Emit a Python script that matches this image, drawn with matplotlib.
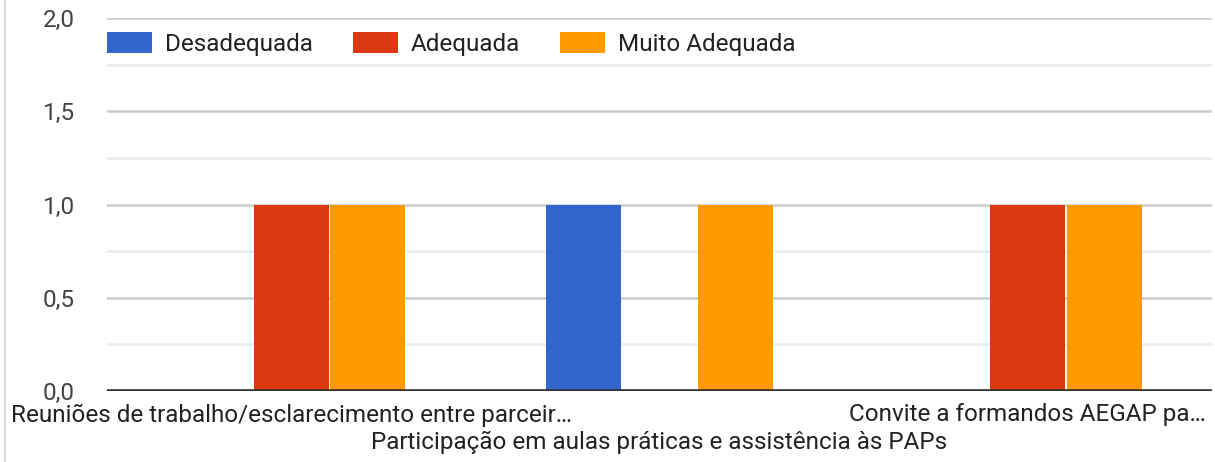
import numpy as np
import matplotlib.pyplot as plt
from matplotlib.patches import Patch
from matplotlib.lines import Line2D

plt.rcParams['font.family'] = ['Roboto', 'DejaVu Sans']

categories = ['Reuniões de trabalho/esclarecimento entre parceir…',
              'Participação em aulas práticas e assistência às PAPs',
              'Convite a formandos AEGAP pa…']
series = ['Desadequada', 'Adequada', 'Muito Adequada']
desadequada = [0, 1, 0]
adequada = [1, 0, 1]
muito_adequada = [1, 1, 1]
y_ticks = [0.0, 0.5, 1.0, 1.5, 2.0]
y_tick_labels = ['0,0', '0,5', '1,0', '1,5', '2,0']

colors = ['#3366cc', '#dc3912', '#ff9900']
fs = 17.5

fig = plt.figure(figsize=(12.15, 4.62), dpi=100)
ax = fig.add_axes([107 / 1215, 71 / 462, 1105 / 1215, 373 / 462])

x = np.arange(len(categories))
w = 0.204
for i, (vals, c, name) in enumerate(zip([desadequada, adequada, muito_adequada], colors, series)):
    ax.bar(x + (i - 1) * (w + 0.003), vals, width=w, color=c, label=name, zorder=3)

ax.set_xlim(-0.5, 2.5)
ax.set_ylim(0, 2.0)

# gridlines
for v in np.arange(0.25, 2.01, 0.25):
    major = abs(v * 2 - round(v * 2)) < 1e-9
    ax.axhline(v, color='#cccccc' if major else '#ebebeb', lw=1.8, zorder=1)
ax.axhline(0, color='#333333', lw=2.6, zorder=4)

for s in ax.spines.values():
    s.set_visible(False)

ax.set_yticks(y_ticks)
ax.set_yticklabels(y_tick_labels, fontsize=fs, color='#444444')
ax.tick_params(axis='y', length=0, pad=23)

ax.set_xticks([])
# category labels (alternate rows like the original)
for i, lab in enumerate(categories):
    ypos = -24 if i % 2 == 0 else -51
    ax.annotate(lab, xy=(x[i], 0), xycoords='data', xytext=(0, ypos / 1.389),
                textcoords='offset points', ha='center', va='center',
                fontsize=fs, color='#222222')

handles = [Patch(facecolor=c, edgecolor='none') for c in colors]
leg = ax.legend(handles, series, loc='center left', bbox_to_anchor=(0.0, 1.86 / 2.0),
                ncol=3, frameon=False, fontsize=fs, handlelength=1.85,
                handleheight=0.9, handletextpad=0.53, columnspacing=1.65,
                borderpad=0, borderaxespad=0)
for t in leg.get_texts():
    t.set_color('#222222')

# left border line of the image
fig.add_artist(Line2D([5 / 1215, 5 / 1215], [0, 1], color='#dddddd', lw=1.5))

fig.savefig('out.png', dpi=100)
